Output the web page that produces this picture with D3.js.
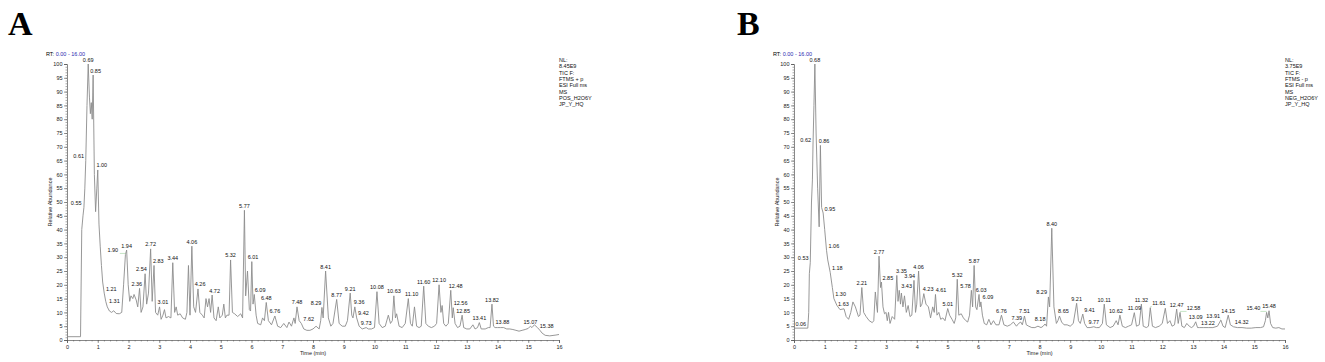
<!DOCTYPE html>
<html>
<head>
<meta charset="utf-8">
<script src="https://cdn.jsdelivr.net/npm/d3@7"></script>
<style>
  body { margin: 0; background: #fff; }
  text { font-family: "Liberation Sans", Arial, sans-serif; }
</style>
</head>
<body>
<div id="chart"></div>
<script>
// page size
var width = 1325;
var height = 362;

// ---- data ----
var rtRange = [0, 16];
var yTicks = [0, 5, 10, 15, 20, 25, 30, 35, 40, 45, 50, 55, 60, 65, 70, 75, 80, 85, 90, 95, 100];
var xTicks = [0, 1, 2, 3, 4, 5, 6, 7, 8, 9, 10, 11, 12, 13, 14, 15, 16];

// panel A, positive mode TIC: [time, relative abundance]
var traceA = [
  [0, 1.2], [0.44, 1.2], [0.48, 40], [0.52, 45], [0.55, 48], [0.58, 55], [0.61, 65], [0.65, 85], [0.69, 100],
  [0.73, 88], [0.76, 82], [0.79, 86], [0.82, 80], [0.85, 96], [0.89, 60], [0.93, 46.5], [0.97, 55], [1.00, 61.6],
  [1.04, 42], [1.08, 34], [1.12, 27], [1.16, 21], [1.21, 17], [1.26, 14], [1.31, 12], [1.38, 10.5], [1.45, 10],
  [1.52, 10.6], [1.6, 9.6], [1.7, 9.5], [1.78, 10], [1.84, 20], [1.90, 31], [1.94, 32.6], [1.99, 20], [2.04, 14],
  [2.08, 16], [2.14, 15], [2.18, 16.5], [2.25, 14.5], [2.3, 12], [2.36, 18.7], [2.41, 10], [2.47, 12], [2.54, 24],
  [2.59, 13], [2.65, 17], [2.72, 33], [2.77, 14], [2.83, 27], [2.88, 10], [2.95, 9], [3.01, 12], [3.06, 7.5],
  [3.12, 9], [3.17, 11], [3.22, 8], [3.3, 8.5], [3.38, 8], [3.44, 28], [3.5, 10], [3.55, 12], [3.6, 9], [3.68, 9.5],
  [3.76, 8], [3.85, 7.5], [3.9, 10], [3.95, 27], [4.0, 9], [4.06, 34], [4.12, 12], [4.18, 10], [4.26, 18.5],
  [4.32, 10], [4.4, 9], [4.46, 8], [4.52, 15], [4.57, 12], [4.62, 15], [4.67, 10], [4.72, 16.3], [4.78, 8],
  [4.85, 7], [4.92, 12], [4.97, 8], [5.05, 9], [5.1, 13], [5.15, 8], [5.2, 9], [5.27, 9], [5.32, 29], [5.38, 10],
  [5.45, 9.5], [5.55, 8.5], [5.65, 9.5], [5.71, 8], [5.77, 47], [5.81, 16], [5.87, 25], [5.93, 11], [5.97, 10.5],
  [6.01, 28.4], [6.05, 13], [6.09, 16.5], [6.15, 9], [6.2, 6], [6.3, 5.5], [6.36, 8], [6.42, 7], [6.48, 13.6],
  [6.55, 7], [6.65, 5.5], [6.76, 8.7], [6.85, 5], [6.95, 4.5], [7.05, 6], [7.15, 4.5], [7.22, 6.5], [7.3, 5],
  [7.38, 8], [7.42, 6], [7.48, 12], [7.55, 7], [7.62, 6], [7.7, 4], [7.8, 3.5], [7.9, 3.5], [8.0, 4], [8.1, 5],
  [8.2, 4], [8.25, 7], [8.29, 11.8], [8.33, 8], [8.41, 25], [8.5, 8], [8.58, 5], [8.65, 6], [8.77, 14.7],
  [8.85, 6], [8.95, 5], [9.05, 5], [9.12, 7], [9.21, 17], [9.26, 9], [9.3, 8], [9.36, 12], [9.42, 8], [9.5, 5],
  [9.6, 4], [9.73, 4.5], [9.8, 4], [9.9, 4], [10.0, 4.5], [10.08, 17.5], [10.15, 6], [10.25, 4.5], [10.35, 5],
  [10.45, 9], [10.52, 6], [10.58, 7], [10.63, 16], [10.68, 8], [10.72, 9.5], [10.8, 5], [10.9, 4.5], [11.0, 6],
  [11.1, 15], [11.17, 6], [11.23, 5], [11.3, 12], [11.37, 5], [11.45, 4.5], [11.52, 5], [11.6, 19.5], [11.67, 6],
  [11.75, 5], [11.85, 4.5], [11.95, 5], [12.02, 6], [12.1, 20], [12.16, 10], [12.2, 12.5], [12.25, 6], [12.32, 5],
  [12.4, 6], [12.48, 18], [12.53, 8], [12.56, 11.7], [12.62, 6], [12.7, 4.5], [12.78, 5], [12.85, 9], [12.9, 4.5],
  [13.0, 4], [13.1, 4], [13.2, 5.5], [13.27, 4], [13.35, 4.5], [13.41, 6.3], [13.47, 4], [13.6, 4], [13.7, 4.5],
  [13.76, 4.5], [13.82, 13], [13.87, 5], [13.92, 4.5], [14.0, 4.5], [14.1, 4.5], [14.2, 4.5], [14.3, 4], [14.4, 4],
  [14.5, 3.8], [14.6, 3.5], [14.7, 3.2], [14.8, 3.5], [14.9, 3.8], [15.0, 4.2], [15.07, 5], [15.12, 4.5],
  [15.2, 5.5], [15.3, 4.5], [15.38, 3.5], [15.45, 2.5], [15.55, 1.7], [15.7, 1.5], [15.9, 1.8], [16, 2]
];

// panel A peak labels: [time, abundance at label]
var peaksA = [
  [0.55, 48], [0.61, 65], [0.69, 100], [0.85, 96], [1.00, 61.6], [1.21, 17], [1.31, 12.5], [1.90, 31], [1.94, 32.6],
  [2.36, 18.7], [2.54, 24], [2.72, 33], [2.83, 27], [3.01, 12], [3.44, 28], [4.06, 34], [4.26, 18.5], [4.72, 16.3],
  [5.32, 29], [5.77, 47], [6.01, 28.4], [6.09, 16.5], [6.48, 13.6], [6.76, 8.7], [7.48, 12], [7.62, 6],
  [8.29, 11.8], [8.41, 25], [8.77, 14.7], [9.21, 17], [9.36, 12], [9.42, 8], [9.73, 4.5], [10.08, 17.5],
  [10.63, 16], [11.10, 15], [11.60, 19.5], [12.10, 20], [12.48, 18], [12.56, 11.7], [12.85, 9], [13.41, 6.3],
  [13.82, 13], [13.88, 5], [15.07, 5], [15.38, 3.5]
];

// panel B, negative mode TIC
var traceB = [
  [0, 4.3], [0.45, 4.3], [0.48, 10], [0.5, 24], [0.53, 28], [0.57, 50], [0.6, 58], [0.62, 71], [0.65, 85],
  [0.68, 100], [0.72, 75], [0.77, 55], [0.82, 41], [0.86, 70.5], [0.9, 48], [0.95, 46], [1.0, 40], [1.06, 32.5],
  [1.1, 29], [1.18, 24.5], [1.25, 19], [1.3, 15], [1.4, 12.5], [1.5, 11], [1.63, 11.3], [1.7, 8.5], [1.78, 7.5],
  [1.85, 10], [1.92, 13.8], [2.0, 12], [2.1, 8.5], [2.15, 9], [2.21, 19], [2.27, 10], [2.35, 8.5], [2.45, 7],
  [2.55, 6.3], [2.6, 7], [2.65, 17.4], [2.7, 12], [2.72, 10], [2.77, 30.4], [2.82, 19], [2.85, 21], [2.9, 12],
  [2.95, 9.5], [3.0, 10], [3.04, 7], [3.08, 10], [3.13, 6], [3.2, 8.5], [3.28, 7.5], [3.35, 23.4], [3.39, 14],
  [3.43, 18], [3.47, 13], [3.5, 17], [3.55, 12], [3.6, 16], [3.66, 10], [3.72, 12.5], [3.78, 8.5], [3.84, 9],
  [3.91, 21.6], [3.96, 10], [4.0, 13], [4.06, 25], [4.12, 12], [4.17, 13], [4.23, 16.8], [4.3, 13], [4.38, 12],
  [4.45, 8], [4.52, 12], [4.57, 10], [4.61, 16.5], [4.66, 9], [4.72, 10], [4.78, 7.5], [4.85, 8], [4.92, 7],
  [5.01, 11.4], [5.07, 9], [5.15, 7.5], [5.22, 6], [5.27, 8], [5.32, 22], [5.37, 9], [5.45, 9.5], [5.52, 8],
  [5.6, 7], [5.66, 6.5], [5.72, 9], [5.78, 18], [5.82, 12], [5.87, 27], [5.92, 12], [5.96, 11], [6.03, 16.5],
  [6.06, 12], [6.09, 13.8], [6.14, 9], [6.2, 6], [6.28, 5.5], [6.35, 7.5], [6.42, 5.5], [6.5, 7], [6.58, 5.5],
  [6.68, 5.5], [6.76, 9], [6.84, 5.5], [6.95, 5], [7.05, 5.5], [7.15, 6.5], [7.25, 5], [7.32, 6], [7.39, 6.5],
  [7.44, 5.5], [7.51, 8.7], [7.57, 5.5], [7.65, 5], [7.75, 4.5], [7.85, 4.5], [7.95, 5], [8.05, 4.5], [8.12, 5],
  [8.18, 5.8], [8.23, 5], [8.29, 15.6], [8.33, 12], [8.40, 40.5], [8.47, 12], [8.55, 6], [8.6, 7], [8.65, 8.7],
  [8.72, 6.5], [8.8, 5.5], [8.9, 5.5], [9.0, 5], [9.1, 6], [9.21, 13.3], [9.27, 7], [9.33, 6], [9.41, 9.4],
  [9.47, 6], [9.55, 4.5], [9.65, 4.5], [9.77, 4.8], [9.85, 4.5], [9.95, 4.5], [10.05, 6], [10.11, 13], [10.18, 5.5],
  [10.3, 4.5], [10.4, 5], [10.5, 7], [10.56, 5.5], [10.62, 9], [10.7, 5], [10.8, 4.5], [10.9, 5], [11.0, 5.5],
  [11.09, 9.9], [11.16, 5], [11.25, 5.5], [11.32, 13], [11.38, 5], [11.48, 4.5], [11.55, 5], [11.61, 11.7],
  [11.68, 5], [11.78, 4.5], [11.9, 5], [12.0, 6], [12.1, 11.5], [12.17, 6], [12.25, 7], [12.32, 5], [12.4, 5.5],
  [12.47, 11.2], [12.52, 6], [12.58, 10], [12.64, 5], [12.72, 4.5], [12.8, 6], [12.88, 5], [12.95, 4.5],
  [13.02, 5], [13.09, 6.6], [13.15, 4.5], [13.22, 4.5], [13.35, 4.5], [13.5, 4.5], [13.65, 4.5], [13.8, 5],
  [13.91, 7.2], [13.98, 5], [14.05, 4.5], [14.15, 9], [14.22, 5.5], [14.32, 4.8], [14.45, 4.5], [14.6, 4.5],
  [14.75, 4.3], [14.9, 4.3], [15.05, 4.5], [15.2, 4.5], [15.3, 4.8], [15.36, 7], [15.4, 10], [15.44, 8],
  [15.48, 10.6], [15.53, 6], [15.6, 4.5], [15.7, 4.3], [15.8, 4.5], [15.9, 4], [16, 4]
];

var peaksB = [
  [0.06, 4.3], [0.53, 28], [0.62, 71], [0.68, 100], [0.86, 70.5], [0.95, 46], [1.06, 32.5], [1.18, 24.5],
  [1.30, 15], [1.63, 11.3], [2.21, 19], [2.77, 30.4], [2.85, 21], [3.35, 23.4], [3.43, 18], [3.94, 21.6],
  [4.06, 25], [4.23, 16.8], [4.61, 16.5], [5.01, 11.4], [5.32, 22], [5.78, 18], [5.87, 27], [6.03, 16.5],
  [6.09, 13.8], [6.76, 9], [7.39, 6.5], [7.51, 8.7], [8.18, 5.8], [8.29, 15.6], [8.40, 40.5], [8.65, 8.7],
  [9.21, 13.3], [9.41, 9.4], [9.77, 4.8], [10.11, 13], [10.62, 9], [11.09, 9.9], [11.32, 13], [11.61, 11.7],
  [12.47, 11.2], [12.58, 10], [13.09, 6.6], [13.22, 4.5], [13.91, 7.2], [14.15, 9], [14.32, 4.8], [15.40, 10],
  [15.48, 10.6]
];

var infoA = ['NL:', '8.45E9', 'TIC F:', 'FTMS + p', 'ESI Full ms', 'MS', 'POS_H2O6Y', 'JP_Y_HQ'];
var infoB = ['NL:', '3.75E9', 'TIC F:', 'FTMS - p', 'ESI Full ms', 'MS', 'NEG_H2O6Y', 'JP_Y_HQ'];

// label placement (time axis position of the label centre when it is moved off its peak)
var labelAtA = {
  0.55: 0.30, 0.61: 0.38, 0.85: 0.93, 1.00: 1.13, 1.21: 1.44, 1.31: 1.54, 1.90: 1.49, 2.36: 2.27, 2.54: 2.42,
  2.83: 2.97, 3.01: 3.12, 4.26: 4.33, 4.72: 4.8, 6.01: 6.05, 6.09: 6.28, 7.62: 7.86, 8.29: 8.1, 9.36: 9.5,
  9.42: 9.64, 11.10: 11.21, 12.48: 12.64, 12.56: 12.8, 12.85: 12.88, 13.88: 14.16, 15.38: 15.6
};
var labelAtB = {
  0.06: 0.22, 0.53: 0.30, 0.62: 0.38, 0.86: 0.98, 0.95: 1.17, 1.06: 1.30, 1.18: 1.41, 1.30: 1.52, 1.63: 1.61,
  2.85: 3.06, 3.35: 3.5, 3.43: 3.67, 3.94: 3.77, 4.23: 4.37, 4.61: 4.79, 5.78: 5.59, 6.03: 6.1, 6.09: 6.32,
  7.39: 7.26, 8.18: 8.02, 8.29: 8.07, 8.65: 8.78, 9.41: 9.63, 10.62: 10.49, 11.61: 11.89, 12.58: 13.02,
  13.22: 13.49, 13.91: 13.66, 14.32: 14.59, 15.40: 14.97
};
// labels tied to their peak with a thin green leader
var leaderA = [1.90];
var leaderB = [11.61, 12.58, 13.91, 15.40];

// ---- drawing ----
var svg = d3.select('#chart')
  .append('svg')
  .attr('width', width)
  .attr('height', height);

function drawPanel(opts) {
  var x = d3.scaleLinear().domain(rtRange).range([opts.x0, opts.x1]);
  var y = d3.scaleLinear().domain([0, 100]).range([340, 64]);
  var g = svg.append('g');

  // panel letter
  g.append('text')
    .attr('x', opts.letterX)
    .attr('y', 35)
    .style('font-family', '"Liberation Serif", "DejaVu Serif", serif')
    .attr('font-weight', 'bold')
    .attr('font-size', 34)
    .text(opts.letter);

  // RT range
  var rt = g.append('text')
    .attr('x', opts.x0 - 21)
    .attr('y', 56)
    .attr('font-size', 5.5);
  rt.append('tspan').attr('fill', '#000').text('RT: ');
  rt.append('tspan').attr('fill', '#2a2ab0').text('0.00 - 16.00');

  // minor ticks y
  g.append('g')
    .attr('transform', 'translate(' + opts.x0 + ',0)')
    .call(d3.axisLeft(y).tickValues(d3.range(0, 101, 1)).tickSize(1.5).tickFormat(''))
    .call(function(s) { s.select('.domain').remove(); })
    .selectAll('line').attr('stroke', '#555').attr('stroke-width', 0.5);

  // major y
  var ya = g.append('g')
    .attr('transform', 'translate(' + opts.x0 + ',0)')
    .call(d3.axisLeft(y).tickValues(yTicks).tickSize(3).tickPadding(1.5));
  ya.select('.domain').attr('stroke', '#555').attr('stroke-width', 0.7);
  ya.selectAll('line').attr('stroke', '#555').attr('stroke-width', 0.6);
  ya.selectAll('text').attr('font-size', 5.5).attr('font-family', '"Liberation Sans", Arial, sans-serif').attr('fill', '#222');

  // minor ticks x
  g.append('g')
    .attr('transform', 'translate(0,340)')
    .call(d3.axisBottom(x).tickValues(d3.range(0, 16.01, 0.2)).tickSize(1.5).tickFormat(''))
    .call(function(s) { s.select('.domain').remove(); })
    .selectAll('line').attr('stroke', '#555').attr('stroke-width', 0.5);

  var xa = g.append('g')
    .attr('transform', 'translate(0,340)')
    .call(d3.axisBottom(x).tickValues(xTicks).tickSize(3).tickPadding(2));
  xa.select('.domain').attr('stroke', '#555').attr('stroke-width', 0.7);
  xa.selectAll('line').attr('stroke', '#555').attr('stroke-width', 0.6);
  xa.selectAll('text').attr('font-size', 5.5).attr('font-family', '"Liberation Sans", Arial, sans-serif').attr('fill', '#222');

  // axis titles
  g.append('text')
    .attr('x', x(8))
    .attr('y', 355)
    .attr('text-anchor', 'middle')
    .attr('font-size', 5.5)
    .attr('fill', '#222')
    .text('Time (min)');

  g.append('text')
    .attr('transform', 'translate(' + (opts.x0 - 15) + ',' + y(50) + ') rotate(-90)')
    .attr('text-anchor', 'middle')
    .attr('font-size', 5.5)
    .attr('fill', '#222')
    .text('Relative Abundance');

  // trace
  var line = d3.line()
    .x(function(d) { return x(d[0]); })
    .y(function(d) { return y(d[1]); });

  g.append('path')
    .datum(opts.trace)
    .attr('d', line)
    .attr('fill', 'none')
    .attr('stroke', '#8c8c8c')
    .attr('stroke-width', 0.9)
    .attr('stroke-linejoin', 'round');

  function labelT(d) {
    return opts.labelAt[d[0]] !== undefined ? opts.labelAt[d[0]] : d[0];
  }

  // green leaders for displaced labels
  g.selectAll('.leader')
    .data(opts.peaks.filter(function(d) { return opts.leader.includes(d[0]); }))
    .enter()
    .append('path')
    .attr('class', 'leader')
    .attr('d', function(d) {
      var lx = x(labelT(d)), px = x(d[0]), py = y(d[1]) - 1;
      var side = lx < px ? lx + 7 : lx - 7;
      return 'M' + side + ',' + py + 'L' + px + ',' + py;
    })
    .attr('fill', 'none')
    .attr('stroke', '#9fd49f')
    .attr('stroke-width', 0.6);

  // peak labels
  g.selectAll('.peak')
    .data(opts.peaks)
    .enter()
    .append('text')
    .attr('class', 'peak')
    .attr('x', function(d) { return x(labelT(d)); })
    .attr('y', function(d) { return y(d[1]) - 2.5; })
    .attr('text-anchor', 'middle')
    .attr('font-size', 5.5)
    .attr('fill', '#111')
    .text(function(d) { return d[0].toFixed(2); });

  // info block
  g.selectAll('.info')
    .data(opts.info)
    .enter()
    .append('text')
    .attr('x', opts.x1)
    .attr('y', function(d, i) { return 62 + i * 6.3; })
    .attr('font-size', 5.5)
    .attr('fill', '#111')
    .text(function(d) { return d; });
}

drawPanel({ letter: 'A', letterX: 8, x0: 67, x1: 559, trace: traceA, peaks: peaksA, labelAt: labelAtA, leader: leaderA, info: infoA });
drawPanel({ letter: 'B', letterX: 737, x0: 794, x1: 1285, trace: traceB, peaks: peaksB, labelAt: labelAtB, leader: leaderB, info: infoB });
</script>
</body>
</html>
